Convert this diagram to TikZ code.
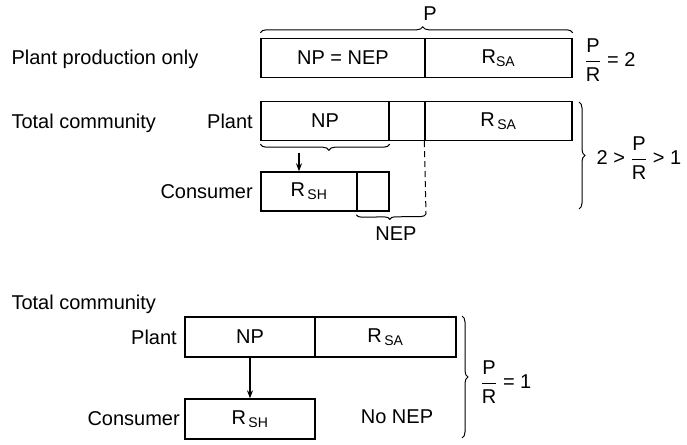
\documentclass[tikz,border=0pt]{standalone}
\usepackage{amsmath}
\usepackage{fontspec}
\setmainfont{Liberation Sans}
\usetikzlibrary{arrows.meta,decorations.pathreplacing,positioning}

\begin{document}
\begin{tikzpicture}[x=1pt, y=-1pt,
    font=\fontsize{20}{24}\selectfont,
    cell/.style={draw, line width=1.4pt, inner sep=0pt, minimum height=39pt},
    cbrace/.style={decorate, decoration={brace, amplitude=6pt}, line width=1pt},
    flow/.style={-{Stealth[length=8pt, width=6pt]}, line width=1.2pt}]
    \useasboundingbox (0,0) rectangle (687,444);
    % Plant production only
    \node[anchor=base west] (title1) at (8,64) {Plant production only};
    \node[cell, minimum width=164pt] (nep1) at (343,58) {NP = NEP};
    \node[cell, minimum width=147pt] (rsa1) at (498.5,58) {R$_{\text{SA}}$};
    \draw[cbrace, decoration={aspect=0.52}] ([yshift=5pt]nep1.north west) -- ([yshift=5pt]rsa1.north east);
    \node (p1) at (430,14) {P};
    \node (ratio1) at (610,60) {$\dfrac{\text{P}}{\text{R}}$ = 2};
    % Total community, plant and consumer
    \node[anchor=base west] (title2) at (8,128) {Total community};
    \node[cell, minimum width=128pt] (np2) at (325,121) {NP};
    \node[cell, minimum width=36pt] (gap2) at (407,121) {};
    \node[cell, minimum width=147pt] (rsa2) at (498.5,121) {R$_{\,\text{SA}}$};
    \node[left=4pt of np2] (plant2) {Plant};
    \node[cell, minimum width=96pt] (rsh2) at (309,191.5) {R$_{\,\text{SH}}$};
    \node[cell, minimum width=32pt] (nep2) at (373,191.5) {};
    \node[left=4pt of rsh2] (cons2) {Consumer};
    \draw[cbrace, decoration={aspect=0.47}] ([yshift=-3pt]np2.south east) -- ([yshift=-3pt]np2.south west);
    \coordinate (eat2) at (299,153);
    \draw[flow] (eat2) -- (eat2 |- rsh2.north);
    \coordinate (nepend) at (426,214);
    \draw[line width=1pt, dash pattern=on 6pt off 4pt] (rsa2.south west) -- (nepend);
    \draw[cbrace, decoration={aspect=0.52, amplitude=5pt}] (nepend) -- ([yshift=-3pt]nep2.south west);
    \node (neplbl) at (396,234) {NEP};
    \draw[cbrace] (579,102) -- (579,209);
    \node (ratio2) at (639,158) {2 > $\dfrac{\text{P}}{\text{R}}$ > 1};
    % Total community, no NEP
    \node[anchor=base west] (title3) at (8,309) {Total community};
    \node[cell, minimum width=130pt, minimum height=40pt] (np3) at (250,337) {NP};
    \node[cell, minimum width=141pt, minimum height=40pt] (rsa3) at (385.5,337) {R$_{\,\text{SA}}$};
    \node[left=4pt of np3] (plant3) {Plant};
    \node[cell, minimum width=130pt, minimum height=40pt] (rsh3) at (250,419) {R$_{\,\text{SH}}$};
    \node[left=1pt of rsh3] (cons3) {Consumer};
    \draw[flow] (np3) -- (rsh3);
    \node (nonep) at (397,417) {No NEP};
    \draw[cbrace] (462,316) -- (462,438);
    \node (ratio3) at (506,382) {$\dfrac{\text{P}}{\text{R}}$ = 1};
\end{tikzpicture}
\end{document}
